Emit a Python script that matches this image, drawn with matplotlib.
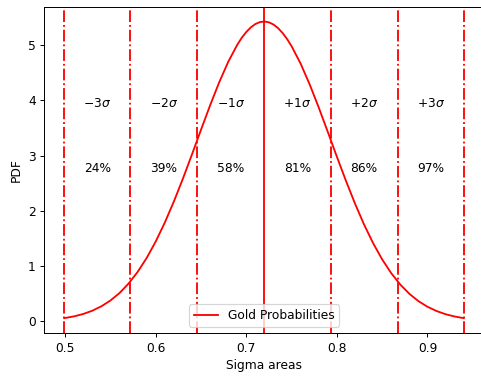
import matplotlib
matplotlib.use("Agg")
import matplotlib.pyplot as plt

# curve
x_vals = [0.499, 0.51, 0.52, 0.53, 0.54, 0.55, 0.56, 0.57, 0.58, 0.59, 0.60,
          0.61, 0.62, 0.63, 0.64, 0.65, 0.66, 0.67, 0.68, 0.69, 0.695, 0.70,
          0.705, 0.71, 0.715, 0.72, 0.725, 0.73, 0.735, 0.74, 0.745, 0.75,
          0.76, 0.77, 0.78, 0.79, 0.80,
          0.81, 0.82, 0.83, 0.84, 0.85, 0.86, 0.87, 0.88, 0.89, 0.90,
          0.91, 0.92, 0.93, 0.940]
pdf_vals = [0.060, 0.093, 0.136, 0.195, 0.275, 0.380, 0.515, 0.686, 0.897, 1.150, 1.448,
            1.790, 2.171, 2.586, 3.024, 3.471, 3.911, 4.327, 4.698, 5.008, 5.135, 5.240,
            5.323, 5.383, 5.418, 5.428, 5.413, 5.373, 5.309, 5.221, 5.111, 4.980,
            4.664, 4.287, 3.869, 3.427, 2.980,
            2.544, 2.132, 1.753, 1.416, 1.122, 0.873, 0.667, 0.500, 0.368, 0.266,
            0.189, 0.131, 0.090, 0.060]

# sigma boundaries
sigma_lines = [0.499, 0.572, 0.646, 0.793, 0.867, 0.940]
mean_line = 0.72

sigma_labels = [r'$-3\sigma$', r'$-2\sigma$', r'$-1\sigma$',
                r'$+1\sigma$', r'$+2\sigma$', r'$+3\sigma$']
pct_labels = ['24%', '39%', '58%', '81%', '86%', '97%']
bounds = [0.499, 0.572, 0.646, 0.72, 0.793, 0.867, 0.940]

dpi = 88
fig = plt.figure(figsize=(481 / dpi, 376 / dpi), dpi=dpi)
ax = fig.add_axes([0.0921, 0.1144, 0.9135, 0.8678])

ax.plot(x_vals, pdf_vals, color='red', lw=1.5, label='Gold Probabilities')
for v in sigma_lines:
    ax.axvline(v, color='red', ls='-.', lw=1.5)
ax.axvline(mean_line, color='red', ls='-', lw=1.5)

for i in range(6):
    mid = (bounds[i] + bounds[i + 1]) / 2
    ax.text(mid, 3.95, sigma_labels[i], ha='center', va='center')
    ax.text(mid, 2.76, pct_labels[i], ha='center', va='center')

ax.set_xlabel('Sigma areas')
ax.set_ylabel('PDF')
ax.legend(loc='lower center')

plt.savefig("out.png", dpi=dpi)
